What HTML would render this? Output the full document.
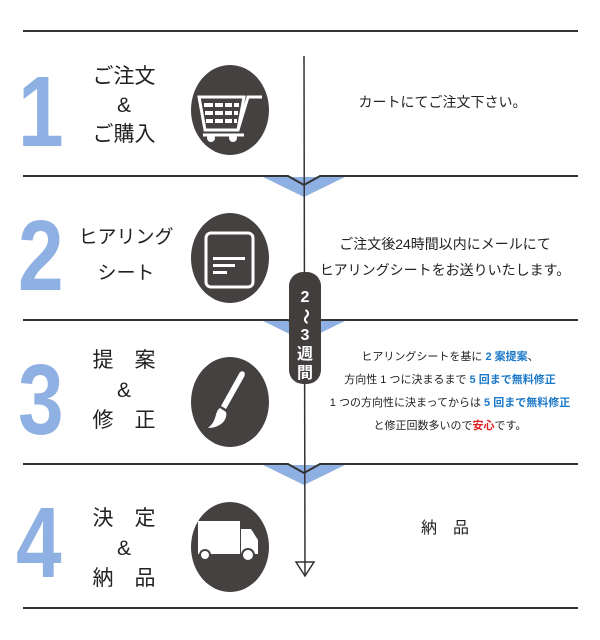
<!DOCTYPE html>
<html><head><meta charset="utf-8"><style>
body{margin:0;width:600px;height:640px;background:#fff;position:relative;overflow:hidden;font-family:"Liberation Sans","Noto Sans CJK JP",sans-serif;color:#222}
.a{position:absolute}
.num{position:absolute;color:#8fb0e2;font-weight:bold;font-size:100px;line-height:1;font-family:"Liberation Sans",sans-serif;transform:scaleX(0.82);transform-origin:left top}
.lab{position:absolute;width:100px;text-align:center;font-size:21px;line-height:29px}
.r{position:absolute;left:305px;width:275px;text-align:center}
.b{color:#1a78c8;font-weight:bold}
</style></head><body>
<svg class="a" style="left:0;top:0" width="600" height="640">
<g fill="#8fb0e2">
<polygon points="263,177 345,177 304,197"/>
<polygon points="263,321 345,321 304,341"/>
<polygon points="263,465 345,465 304,485"/>
</g>
<g stroke="#333" stroke-width="2" fill="none">
<line x1="23" y1="31" x2="578" y2="31"/>
<polyline points="23,176 288,176 304,185 320,176 578,176"/>
<polyline points="23,320 288,320 304,329 320,320 578,320"/>
<polyline points="23,464 288,464 304,473 320,464 578,464"/>
<line x1="23" y1="608" x2="578" y2="608"/>
<line x1="304" y1="56" x2="305" y2="576" stroke-width="1.5"/>
<polygon points="296,562 314,562 305,576" stroke-width="1.5"/>
</g>
<rect x="289" y="272" width="32" height="112" rx="14" fill="#423e3d"/>
<g fill="#454141">
<ellipse cx="230" cy="110" rx="39" ry="45"/>
<ellipse cx="230" cy="258" rx="39" ry="45"/>
<ellipse cx="230" cy="402" rx="39" ry="45"/>
<ellipse cx="230" cy="547" rx="39" ry="45"/>
</g>
<g fill="#fff">
<path d="M199,97 L244,97 L238,130 L205,130 Z" fill="none" stroke="#fff" stroke-width="3"/>
<path d="M238,130 L248,97 L262,97" fill="none" stroke="#fff" stroke-width="3"/>
<line x1="203" y1="135" x2="244" y2="135" stroke="#fff" stroke-width="3"/>
<circle cx="211" cy="138" r="4"/><circle cx="233" cy="138" r="4"/>
<rect x="204" y="103" width="35" height="4"/><rect x="205" y="111" width="33" height="4"/><rect x="206" y="119" width="31" height="4"/>
</g>
<g stroke="#454141" stroke-width="2"><line x1="214" y1="101" x2="214" y2="126"/><line x1="224" y1="101" x2="224" y2="126"/><line x1="233" y1="101" x2="233" y2="126"/></g>
<rect x="206" y="233" width="47" height="54" rx="5" fill="none" stroke="#fff" stroke-width="3"/>
<g fill="#fff"><rect x="213" y="257" width="32" height="3"/><rect x="213" y="264" width="22" height="3"/><rect x="213" y="271" width="14" height="3"/></g>
<path d="M240,372 C244,370 246,373 244,377 L226,409 L221,406 Z" fill="#fff"/>
<path d="M220,408 C214,412 218,420 208,428 C220,428 228,420 226,412 Z" fill="#fff"/>
<g fill="#fff"><rect x="198" y="521" width="42" height="33"/><path d="M241,529 L251,529 L258,540 L258,554 L241,554 Z"/></g>
<g fill="#fff" stroke="#454141" stroke-width="2"><circle cx="205" cy="555" r="5"/><circle cx="248" cy="555" r="6"/></g>
</svg>
<div class="num" style="left:18px;top:62px">1</div>
<div class="num" style="left:18px;top:206px">2</div>
<div class="num" style="left:18px;top:350px">3</div>
<div class="num" style="left:16px;top:493px">4</div>
<div class="lab" style="left:74px;top:62px">ご注文<br>&amp;<br>ご購入</div>
<div class="lab" style="left:70px;top:220px;width:112px;font-size:19px;line-height:36px">ヒアリング<br>シート</div>
<div class="lab" style="left:74px;top:346px;line-height:30px">提　案<br>&amp;<br>修　正</div>
<div class="lab" style="left:74px;top:504px;line-height:30px">決　定<br>&amp;<br>納　品</div>
<div class="a" style="left:289px;top:288px;width:32px;text-align:center;color:#fff;font-size:16px;line-height:19px;font-weight:bold">2<br><span style="display:inline-block;transform:rotate(90deg)">〜</span><br>3<br>週<br>間</div>
<div class="r" style="top:92px;font-size:14px">カートにてご注文下さい。</div>
<div class="r" style="top:231px;font-size:14px;line-height:26px;left:310px;width:270px">ご注文後24時間以内にメールにて<br>ヒアリングシートをお送りいたします。</div>
<div class="r" style="top:346px;font-size:11px;line-height:23px;left:312px;width:276px">ヒアリングシートを基に <span class="b">2 案提案</span>、<br>方向性 1 つに決まるまで <span class="b">5 回まで無料修正</span><br>1 つの方向性に決まってからは <span class="b">5 回まで無料修正</span><br>と修正回数多いので<span style="color:#e02020;font-weight:bold">安心</span>です。</div>
<div class="r" style="top:514px;font-size:16px;left:305px;width:280px">納　品</div>
</body></html>
